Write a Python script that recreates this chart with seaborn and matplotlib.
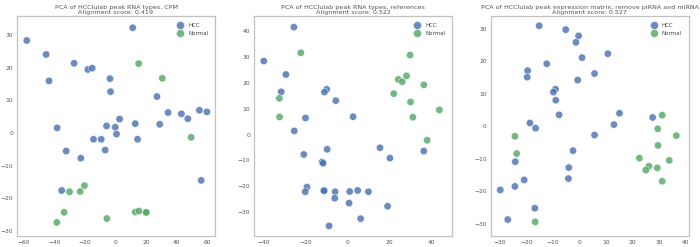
import numpy as np
import pandas as pd
import matplotlib
matplotlib.use("Agg")
import matplotlib.pyplot as plt
import seaborn as sns

titles = [
    "PCA of HCClulab peak RNA types, CPM\nAlignment score: 0.419",
    "PCA of HCClulab peak RNA types, references\nAlignment score: 0.522",
    "PCA of HCClulab peak expression matrix, remove piRNA and miRNA\nAlignment score: 0.527",
]

# Panel 1
p1_hcc_x = [-58.2, 11.2, -45.5, -43.6, -27.2, -18.2, -15.3, -3.7, -3.3, 27.1, 34.4, 43.1, 47.3, 54.9, 59.8,
            2.6, -5.9, -0.2, 0.6, 12.9, 28.9, -38.3, -14.5, -9.4, 14.4, -6.8, -32.4, -22.8, -35.3, 56.1]
p1_hcc_y = [28.4, 32.3, 24.1, 16.0, 21.4, 19.5, 19.9, 16.7, 12.7, 11.2, 6.3, 5.9, 4.4, 7.0, 6.5,
            4.3, 2.2, 1.8, -0.3, 2.9, 2.7, 1.6, -1.9, -1.9, -1.9, -5.2, -5.5, -7.7, -17.6, -14.5]
p1_nor_x = [15.1, 30.6, 49.5, -20.4, -23.2, -30.2, -33.7, -38.5, -5.7, 12.9, 15.3, 19.9, 20.1]
p1_nor_y = [21.3, 16.8, -1.3, -16.1, -17.9, -18.0, -24.3, -27.4, -26.2, -24.2, -23.9, -24.4, -24.3]

# Panel 2
p2_hcc_x = [-25.5, -39.8, -29.3, -31.5, -9.9, -11.0, -5.6, -20.0, 2.6, -25.3, -9.7, -20.8, 15.4, 20.1, 36.2,
            -12.1, -11.6, -19.3, -20.1, -11.4, -11.1, -5.9, -6.1, 1.0, 4.8, 9.9, 0.7, 19.0, 6.2, -8.8]
p2_hcc_y = [41.5, 28.4, 23.2, 16.5, 17.5, 16.4, 13.1, 6.4, 6.9, 1.4, -5.7, -7.7, -5.1, -9.1, -6.4,
            -10.6, -11.1, -20.3, -22.1, -21.6, -21.7, -22.1, -24.6, -22.0, -21.6, -22.1, -26.5, -27.7, -32.5, -35.3]
p2_nor_x = [-22.2, -32.4, -32.3, 29.7, 28.0, 24.1, 26.0, 21.9, 36.2, 29.9, 31.0, 43.6, 37.8]
p2_nor_y = [31.6, 14.0, 6.8, 30.7, 22.7, 21.3, 20.4, 15.8, 19.2, 12.6, 6.7, 9.5, -2.2]

# Panel 3
p3_hcc_x = [-15.25, -5.25, -0.4, -1.4, 0.9, 10.6, -12.4, -19.6, -19.75, -0.75, 5.6, -9.1, -9.9, -9.0, -7.75,
            -18.75, -16.6, 12.9, 15.0, 5.6, -2.5, -24.25, -4.1, -4.25, -20.9, -24.4, -29.9, -16.9, -27.1, 27.5]
p3_hcc_y = [30.9, 29.7, 27.8, 25.8, 21.1, 22.3, 19.2, 17.1, 15.1, 14.2, 16.2, 11.4, 10.5, 8.0, 3.5,
            1.0, -0.6, 0.5, 4.0, -2.7, -7.5, -10.9, -12.7, -16.1, -16.5, -18.5, -19.6, -25.2, -28.7, 2.7]
p3_nor_x = [-24.4, -23.75, -16.75, 31.1, 29.4, 36.4, 29.5, 22.5, 33.75, 26.1, 24.9, 29.25, 31.1]
p3_nor_y = [-3.1, -8.4, -29.4, 3.4, -0.8, -2.9, -5.9, -9.8, -10.5, -12.3, -13.5, -12.8, -16.9]

panels = [
    (p1_hcc_x, p1_hcc_y, p1_nor_x, p1_nor_y),
    (p2_hcc_x, p2_hcc_y, p2_nor_x, p2_nor_y),
    (p3_hcc_x, p3_hcc_y, p3_nor_x, p3_nor_y),
]
xlims = [(-64.4, 65.0), (-44.3, 49.5), (-33.4, 41.0)]
ylims = [(-31.4, 35.9), (-39.0, 45.8), (-33.6, 33.9)]
xticks = [[-60, -40, -20, 0, 20, 40, 60], [-40, -20, 0, 20, 40], [-30, -20, -10, 0, 10, 20, 30, 40]]
yticks = [[-30, -20, -10, 0, 10, 20, 30], [-30, -20, -10, 0, 10, 20, 30, 40], [-30, -20, -10, 0, 10, 20, 30]]

sns.set_theme(style="white")
plt.rcParams['font.family'] = ['DejaVu Sans']

fig = plt.figure(figsize=(7.0, 2.47), dpi=100)
lefts = [17.3, 254.3, 491.0]
width = 197.5
bottom_px = 235.5
top_px = 16.0
palette = {"HCC": "#4C72B0", "Normal": "#55A868"}

for i, (hx, hy, nx, ny) in enumerate(panels):
    ax = fig.add_axes([lefts[i] / 700, (247 - bottom_px) / 247, width / 700, (bottom_px - top_px) / 247])
    df = pd.DataFrame({
        "x": list(hx) + list(nx),
        "y": list(hy) + list(ny),
        "type": ["HCC"] * len(hx) + ["Normal"] * len(nx),
    })
    sns.scatterplot(data=df, x="x", y="y", hue="type", palette=palette, ax=ax,
                    s=28, alpha=0.82, edgecolor="white", linewidth=0.4)
    ax.set_xlim(*xlims[i])
    ax.set_ylim(*ylims[i])
    ax.set_xticks(xticks[i])
    ax.set_yticks(yticks[i])
    ax.set_xlabel("")
    ax.set_ylabel("")
    ax.tick_params(labelsize=4.3, colors="#555555", length=0, pad=3)
    for sp in ax.spines.values():
        sp.set_color("#c0c0c0")
        sp.set_linewidth(0.9)
    ax.set_title(titles[i], fontsize=4.55, color="#555555", pad=1.5, linespacing=1.0)
    leg = ax.legend(loc="upper right", frameon=False, fontsize=4, markerscale=1.1,
                    handletextpad=0.4, borderaxespad=0.8, labelspacing=0.55)
    for t in leg.get_texts():
        t.set_color("#444444")

fig.savefig("out.png", dpi=100)
